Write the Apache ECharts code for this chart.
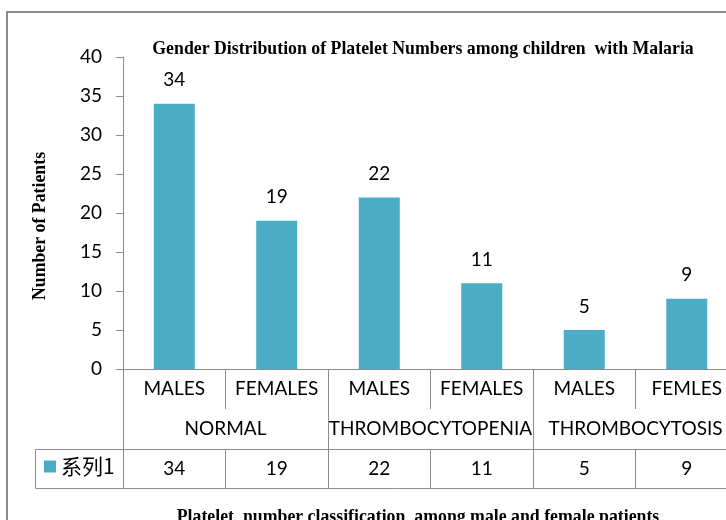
<!DOCTYPE html>
<html>
<head>
<meta charset="utf-8">
<script src="https://cdn.jsdelivr.net/npm/echarts@6/dist/echarts.min.js"></script>
<style>
  html, body { margin: 0; padding: 0; overflow: hidden; background: #fff; }
  #myChart { width: 760px; height: 540px; }
</style>
</head>
<body>
<div id="myChart"></div>
<script>
  // sub categories (gender) and their groups (platelet class)
  var genders = ['MALES', 'FEMALES', 'MALES', 'FEMALES', 'MALES', 'FEMLES']
  var groups = ['NORMAL', 'THROMBOCYTOPENIA', 'THROMBOCYTOSIS']
  var patients = [34, 19, 22, 11, 5, 9]
  var yTicks = { min: 0, max: 40, interval: 5 }

  var lineColor = '#8c8c8c'
  var labelFont = 'Lato'
  var titleFont = 'Liberation Serif'

  var myChart = echarts.init(document.getElementById('myChart'))

  var option = {
    animation: false,
    title: [
      {
        text: 'Gender Distribution of Platelet Numbers among children  with Malaria',
        left: 418,
        textAlign: 'center',
        top: 35,
        textStyle: { fontFamily: titleFont, fontWeight: 'bold', fontSize: 17.8, color: '#000' }
      },
      {
        text: 'Platelet  number classification  among male and female patients',
        left: 413,
        textAlign: 'center',
        top: 503,
        textStyle: { fontFamily: titleFont, fontWeight: 'bold', fontSize: 17.8, color: '#000' }
      }
    ],
    legend: {
      left: 39,
      top: 451,
      icon: 'rect',
      itemWidth: 12,
      itemHeight: 12,
      textStyle: { fontFamily: 'Noto Sans CJK SC', fontSize: 21, color: '#000' },
      data: ['系列1']
    },
    graphic: [
      {
        type: 'rect',
        shape: { x: 7, y: 12, width: 800, height: 600 },
        style: { fill: 'none', stroke: lineColor, lineWidth: 2 },
        z: -1
      },
      {
        type: 'rect',
        shape: { x: 35.5, y: 449.5, width: 800, height: 39 },
        style: { fill: 'none', stroke: lineColor, lineWidth: 1 },
        z: -1
      }
    ],
    grid: {
      left: 123,
      right: 22,
      top: 57,
      bottom: 171
    },
    xAxis: [
      {
        type: 'category',
        data: genders,
        position: 'bottom',
        axisLine: { show: true, lineStyle: { color: lineColor } },
        axisTick: { show: true, length: 40, lineStyle: { color: lineColor } },
        axisLabel: { interval: 0, margin: 10, fontFamily: labelFont, fontSize: 19, color: '#000' }
      },
      {
        type: 'category',
        data: groups,
        position: 'bottom',
        axisLine: { show: false },
        axisTick: { show: true, length: 80, lineStyle: { color: lineColor } },
        axisLabel: { interval: 0, margin: 50, fontFamily: labelFont, fontSize: 19, color: '#000' }
      },
      {
        type: 'category',
        data: patients.map(String),
        position: 'bottom',
        offset: 80,
        axisLine: { show: false },
        axisTick: { show: true, length: 40, lineStyle: { color: lineColor } },
        axisLabel: { interval: 0, margin: 10, fontFamily: labelFont, fontSize: 19, color: '#000' }
      }
    ],
    yAxis: {
      type: 'value',
      min: yTicks.min,
      max: yTicks.max,
      interval: yTicks.interval,
      name: 'Number of Patients',
      nameLocation: 'middle',
      nameGap: 74,
      nameTextStyle: { fontFamily: titleFont, fontWeight: 'bold', fontSize: 17.8, color: '#000', padding: [0, 26, 0, 0] },
      axisLine: { show: true, lineStyle: { color: lineColor } },
      axisTick: { show: true, length: 7, lineStyle: { color: lineColor } },
      splitLine: { show: false },
      axisLabel: { margin: 21, fontFamily: labelFont, fontSize: 19, color: '#000' }
    },
    series: [
      {
        name: '系列1',
        type: 'bar',
        xAxisIndex: 0,
        data: patients,
        barWidth: 41,
        itemStyle: { color: '#4bacc6' },
        label: {
          show: true,
          position: 'top',
          distance: 14,
          fontFamily: labelFont,
          fontSize: 19,
          color: '#000'
        }
      }
    ]
  }

  myChart.setOption(option)
</script>
</body>
</html>
